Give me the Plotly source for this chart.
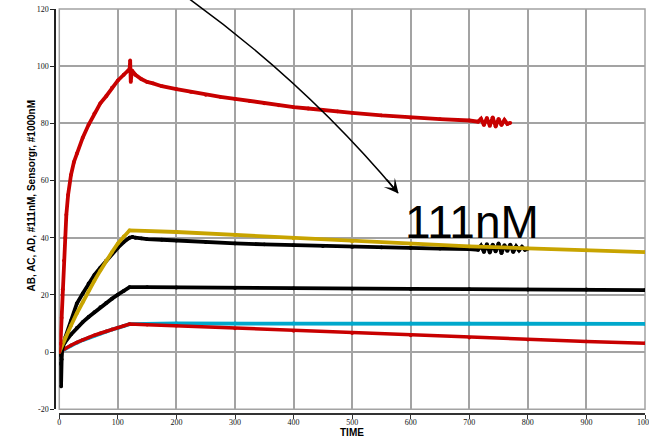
import plotly.graph_objects as go

# ---------------- data ----------------
red_hi_t = [0, 2, 4, 6, 8, 10, 12, 15, 20, 25, 30, 40, 50, 60, 70, 80, 90, 100, 110, 118, 120, 121, 122, 124,
            130, 140, 150, 160, 175, 200, 225, 250, 275, 300, 325, 350, 375, 400, 425, 450, 475, 500, 550, 600,
            650, 700, 715, 720, 725, 730, 735, 740, 745, 750, 755, 760, 765, 770]
red_hi_v = [0, 3, 12, 22, 32, 40, 48, 55, 62, 66.5, 69.5, 75, 79.5, 83.5, 87, 89.5, 92.5, 95, 97, 98.5, 99, 102, 94.5, 98.5,
            97, 95.5, 94.5, 94, 93, 92, 91, 90, 89.3, 88.6, 87.8, 87, 86.3, 85.7, 85.2, 84.6, 84.2, 83.7, 82.8, 82,
            81.5, 81, 80.6, 81.6, 79.4, 81.9, 79.1, 82.1, 78.9, 81.6, 79.4, 81.2, 79.8, 80.2]

blk_hi_t = [0, 1, 2, 3, 4, 5, 10, 20, 30, 40, 50, 60, 70, 80, 90, 100, 110, 120, 125, 130, 140, 150, 175, 200, 250,
            300, 350, 400, 450, 500, 550, 600, 650, 700, 715, 720, 725, 730, 735, 740, 745, 750, 755, 760, 765,
            770, 775, 780, 785, 790, 795, 800]
blk_hi_v = [0, -1, -4, -12, -2.5, 1, 5, 11, 17, 20.5, 24, 27, 29.5, 32, 34.5, 36.5, 38.5, 40, 40.3, 40, 39.8, 39.5, 39.3, 39, 38.5,
            38, 37.7, 37.4, 37.1, 36.8, 36.6, 36.4, 36.2, 36, 35.8, 37.2, 35, 37.8, 34.8, 37.6, 35.2, 38, 34.6, 37.4, 35.4,
            37.6, 35, 37, 35.6, 36.8, 35.8, 36.2]

yel_t = [0, 10, 20, 30, 40, 50, 60, 70, 80, 90, 100, 110, 120, 200, 300, 400, 500, 600, 700, 800, 900, 1000]
yel_v = [0, 5, 9.3, 13.6, 17.5, 21.5, 25, 28.5, 32, 35, 38, 40.5, 42.6, 42, 41, 39.8, 38.7, 37.8, 37, 36.3, 35.6, 35.0]

blk_lo_t = [0, 10, 20, 30, 40, 50, 60, 70, 80, 90, 100, 110, 120, 150, 200, 300, 400, 500, 600, 700, 800, 900, 1000]
blk_lo_v = [0, 3.5, 6.2, 8.5, 10.5, 12.3, 14, 15.7, 17.2, 18.7, 20.1, 21.4, 22.7, 22.7, 22.6, 22.4, 22.3, 22.2, 22.1, 22.0,
            21.9, 21.9, 21.7]

cyan_t = [0, 10, 20, 30, 40, 50, 60, 70, 80, 90, 100, 110, 120, 200, 300, 400, 500, 600, 700, 800, 900, 1000]
cyan_v = [0, 1.2, 2.3, 3.3, 4.2, 5.0, 5.8, 6.5, 7.2, 7.9, 8.5, 9.1, 9.8, 10.0, 10.0, 10.0, 10.0, 10.0, 10.0, 10.0, 9.9, 9.9]

red_lo_t = [0, 10, 20, 30, 40, 50, 60, 70, 80, 90, 100, 110, 120, 150, 200, 300, 400, 500, 600, 700, 800, 900, 1000]
red_lo_v = [0, 1.3, 2.4, 3.4, 4.3, 5.1, 5.9, 6.6, 7.3, 8.0, 8.6, 9.2, 9.8, 9.6, 9.2, 8.3, 7.4, 6.6, 5.8, 5.0, 4.3, 3.7, 3.1]

x_ticks = [0, 100, 200, 300, 400, 500, 600, 700, 800, 900, 1000]
y_ticks = [-20, 0, 20, 40, 60, 80, 100, 120]

y_title = "AB, AC, AD, #111nM, Sensorgr, #1000nM"
x_title = "TIME"
label_text = "111nM"

# ---------------- layout geometry ----------------
W, H = 649, 437
ML, MR, MT, MB = 55, 4, 9, 23
PW, PH = W - ML - MR, H - MT - MB


def px(xp):
    return (xp - ML) / PW


def py(yp):
    return (H - MB - yp) / PH


RED = "#c80000"
YEL = "#c8a400"
CYAN = "#00a8cc"
BLK = "#000000"

fig = go.Figure()


def add(t, v, color, w=3.8, ms=3.8):
    fig.add_trace(go.Scatter(x=t, y=v, mode="lines+markers", line=dict(color=color, width=w),
                             marker=dict(color=color, size=ms), showlegend=False, hoverinfo="skip"))


add(cyan_t, cyan_v, CYAN)
add(red_lo_t, red_lo_v, RED, 3.5, 3.5)
add(blk_lo_t, blk_lo_v, BLK)
add(blk_hi_t, blk_hi_v, BLK)
add(yel_t, yel_v, YEL)
add(red_hi_t, red_hi_v, RED)

grid = "#a3a3a3"
tickfont = dict(family="Liberation Serif, Times New Roman, serif", size=8, color="#111111")

fig.update_layout(
    width=W, height=H,
    margin=dict(l=ML, r=MR, t=MT, b=MB, pad=0),
    paper_bgcolor="white", plot_bgcolor="white",
    xaxis=dict(range=[0, 1000], domain=[4.3 / PW, 1], anchor="free", position=0,
               tickvals=x_ticks, ticktext=[str(v) for v in x_ticks],
               showgrid=True, gridcolor=grid, gridwidth=1.5, zeroline=False,
               showline=True, linecolor="#333333", linewidth=1.5,
               ticks="outside", ticklen=4, tickwidth=1, tickcolor="#333333",
               tickfont=tickfont, automargin=False, ticklabeloverflow="allow",
               ticklabelstandoff=-3),
    yaxis=dict(range=[-20, 120], domain=[4.7 / PH, 1], anchor="free", position=0,
               tickvals=y_ticks, ticktext=[str(v) for v in y_ticks],
               showgrid=True, gridcolor=grid, gridwidth=1.5, zeroline=False,
               showline=True, linecolor="#222222", linewidth=1.5,
               ticks="outside", ticklen=4, tickwidth=1, tickcolor="#222222",
               tickfont=tickfont, automargin=False),
)

# plot frame
fig.add_shape(type="rect", xref="x domain", yref="y domain", x0=0, x1=1, y0=0, y1=1,
              line=dict(color=grid, width=1.5), layer="below")

# curved arrow
p0 = (188, -2)
c = (306, 83)
p2 = (398, 193)
fig.add_shape(type="path", xref="paper", yref="paper",
              path=f"M {px(p0[0])},{py(p0[1])} Q {px(c[0])},{py(c[1])} {px(p2[0])},{py(p2[1])}",
              line=dict(color="black", width=1.5))
fig.add_annotation(xref="paper", yref="paper", x=px(398.5), y=py(193.5), text="",
                   showarrow=True, arrowhead=3, arrowsize=1.6, arrowwidth=1.5, arrowcolor="black",
                   ax=-12.8, ay=-15.3)

# big label
fig.add_annotation(xref="paper", yref="paper", x=px(472), y=py(221.5), text=label_text,
                   showarrow=False, xanchor="center", yanchor="middle",
                   font=dict(family="Liberation Sans, Arial, sans-serif", size=46, color="black"))

# axis titles
fig.add_annotation(xref="paper", yref="paper", x=px(31.5), y=py(196), text=f"<b>{y_title}</b>",
                   textangle=-90, showarrow=False, xanchor="center", yanchor="middle",
                   font=dict(family="Liberation Sans, Arial, sans-serif", size=10, color="black"))
fig.add_annotation(xref="paper", yref="paper", x=px(352), y=py(432), text=f"<b>{x_title}</b>",
                   showarrow=False, xanchor="center", yanchor="middle",
                   font=dict(family="Liberation Sans, Arial, sans-serif", size=10, color="black"))

fig.write_html("out.html", config={"displayModeBar": False},
               post_script="document.body.style.margin='0';document.body.style.padding='0';")
